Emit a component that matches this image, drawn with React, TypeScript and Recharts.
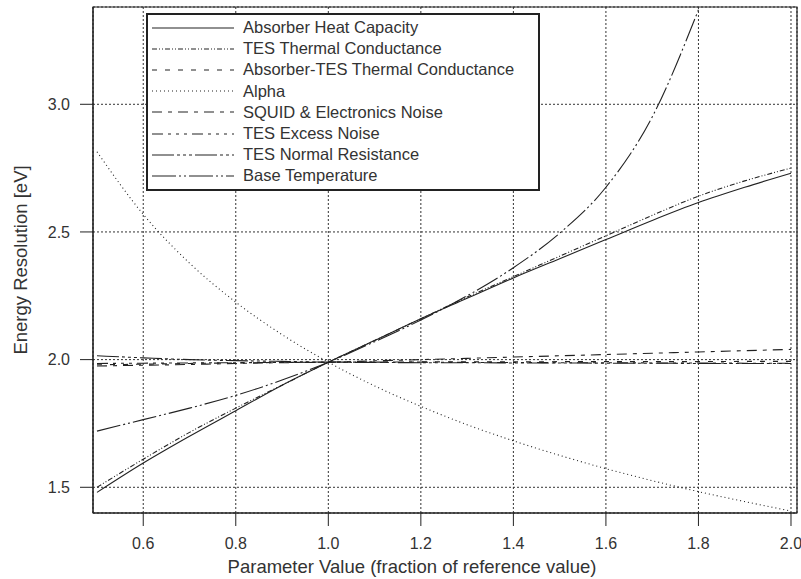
import React from 'react'
import {
  LineChart,
  Line,
  XAxis,
  YAxis,
  CartesianGrid,
  Legend,
  ReferenceArea,
} from 'recharts'

// parameter value (fraction of reference value)
const xValues = [0.5, 0.6, 0.7, 0.8, 0.9, 1.0, 1.1, 1.2, 1.3, 1.4, 1.5, 1.6, 1.7, 1.8, 1.9, 2.0]

// energy resolution [eV], one list per parameter
const absorberHeatCapacity = [1.48, 1.595, 1.7, 1.8, 1.9, 1.99, 2.075, 2.16, 2.24, 2.32, 2.395, 2.47, 2.545, 2.615, 2.675, 2.73]
const tesThermalConductance = [1.5, 1.61, 1.715, 1.81, 1.9, 1.99, 2.075, 2.16, 2.245, 2.325, 2.405, 2.485, 2.565, 2.64, 2.7, 2.75]
const absorberTesConductance = [1.98, 1.982, 1.985, 1.987, 1.989, 1.99, 1.99, 1.991, 1.991, 1.991, 1.992, 1.992, 1.992, 1.992, 1.993, 1.993]
const alpha = [2.814, 2.569, 2.378, 2.225, 2.098, 1.99, 1.897, 1.817, 1.745, 1.682, 1.625, 1.573, 1.526, 1.483, 1.444, 1.407]
const squidNoise = [1.975, 1.978, 1.981, 1.985, 1.988, 1.99, 1.995, 2.0, 2.005, 2.01, 2.015, 2.02, 2.025, 2.03, 2.035, 2.04]
const tesExcessNoise = [1.985, 1.986, 1.987, 1.988, 1.989, 1.99, 1.99, 1.99, 1.989, 1.989, 1.988, 1.988, 1.987, 1.987, 1.986, 1.986]
const tesNormalResistance = [2.015, 2.007, 2.0, 1.996, 1.993, 1.99, 1.989, 1.988, 1.988, 1.987, 1.987, 1.986, 1.986, 1.985, 1.985, 1.985]
const baseTemperature = [1.72, 1.765, 1.81, 1.86, 1.92, 1.99, 2.07, 2.155, 2.25, 2.36, 2.495, 2.675, 2.95, 3.37]

const xTicks = [0.6, 0.8, 1.0, 1.2, 1.4, 1.6, 1.8, 2.0]
const yTicks = [1.5, 2.0, 2.5, 3.0]

const SERIES = [
  { key: 'ahc', name: 'Absorber Heat Capacity', values: absorberHeatCapacity, dash: undefined },
  { key: 'ttc', name: 'TES Thermal Conductance', values: tesThermalConductance, dash: '5 2 1 2 1 2' },
  { key: 'atc', name: 'Absorber-TES Thermal Conductance', values: absorberTesConductance, dash: '5 8' },
  { key: 'alpha', name: 'Alpha', values: alpha, dash: '1 3' },
  { key: 'squid', name: 'SQUID & Electronics Noise', values: squidNoise, dash: '10 6 4 6' },
  { key: 'excess', name: 'TES Excess Noise', values: tesExcessNoise, dash: '11 5 3 5 3 5 3 5' },
  { key: 'rn', name: 'TES Normal Resistance', values: tesNormalResistance, dash: '22 3 3 3 3 3 3 3' },
  { key: 'tb', name: 'Base Temperature', values: baseTemperature, dash: '24 3 2 3 2 3' },
]

const data = xValues.map((x, i) => {
  const row: Record<string, number | null> = { x }
  SERIES.forEach((s) => {
    row[s.key] = i < s.values.length ? s.values[i] : null
  })
  return row
})

const X_DOMAIN: [number, number] = [0.4914, 2.013]
const Y_DOMAIN: [number, number] = [1.3993, 3.381]
const INK = '#222'
const FONT = '"Liberation Sans", Arial, Helvetica, sans-serif'

function LegendBox() {
  return (
    <div
      style={{
        width: 390,
        height: 170,
        padding: '2px 0',
        background: '#fff',
        border: `2px solid ${INK}`,
        fontFamily: FONT,
        fontSize: 16.5,
        color: '#333',
      }}
    >
      {SERIES.map((s) => (
        <div key={s.key} style={{ height: 21.2, display: 'flex', alignItems: 'center' }}>
          <svg width={95} height={10} style={{ flexShrink: 0 }}>
            <line x1={4} x2={86} y1={5} y2={5} stroke={INK} strokeWidth={1.2} strokeDasharray={s.dash} />
          </svg>
          <span style={{ whiteSpace: 'nowrap' }}>{s.name}</span>
        </div>
      ))}
    </div>
  )
}

export default function App() {
  const tickStyle = { fontSize: 16, fill: '#333', fontFamily: FONT }
  return (
    <div style={{ position: 'absolute', left: 0, top: 0, width: 801, height: 579, background: '#fff' }}>
      <LineChart width={801} height={579} data={data} margin={{ top: 7, right: 4, bottom: 0, left: 0 }}>
        <CartesianGrid stroke="#333" strokeDasharray="2 2" strokeWidth={1} />
        <XAxis
          dataKey="x"
          type="number"
          domain={X_DOMAIN}
          ticks={xTicks}
          allowDataOverflow
          tickFormatter={(v) => Number(v).toFixed(1)}
          tick={tickStyle}
          tickSize={13}
          tickMargin={12}
          height={66}
          stroke={INK}
          label={{
            value: 'Parameter Value (fraction of reference value)',
            position: 'insideBottom',
            offset: 6,
            dx: -33,
            style: { fontSize: 18.5, fill: '#333', fontFamily: FONT },
          }}
        />
        <YAxis
          type="number"
          domain={Y_DOMAIN}
          ticks={yTicks}
          allowDataOverflow
          tickFormatter={(v) => Number(v).toFixed(1)}
          tick={tickStyle}
          tickSize={13}
          tickMargin={10}
          width={93}
          stroke={INK}
          label={{
            value: 'Energy Resolution [eV]',
            angle: -90,
            position: 'insideLeft',
            offset: 20,
            style: { fontSize: 18.5, fill: '#333', fontFamily: FONT, textAnchor: 'middle' },
          }}
        />
        <ReferenceArea
          x1={X_DOMAIN[0]}
          x2={X_DOMAIN[1]}
          y1={Y_DOMAIN[0]}
          y2={Y_DOMAIN[1]}
          fill="none"
          stroke={INK}
          strokeWidth={1.2}
        />
        {SERIES.map((s) => (
          <Line
            key={s.key}
            dataKey={s.key}
            name={s.name}
            type="monotone"
            stroke={INK}
            strokeWidth={1.1}
            strokeDasharray={s.dash}
            dot={false}
            activeDot={false}
            isAnimationActive={false}
          />
        ))}
        <Legend
          layout="vertical"
          align="center"
          verticalAlign="middle"
          wrapperStyle={{ left: 146, top: 13, width: 394, height: 176 }}
          content={() => <LegendBox />}
        />
      </LineChart>
    </div>
  )
}
